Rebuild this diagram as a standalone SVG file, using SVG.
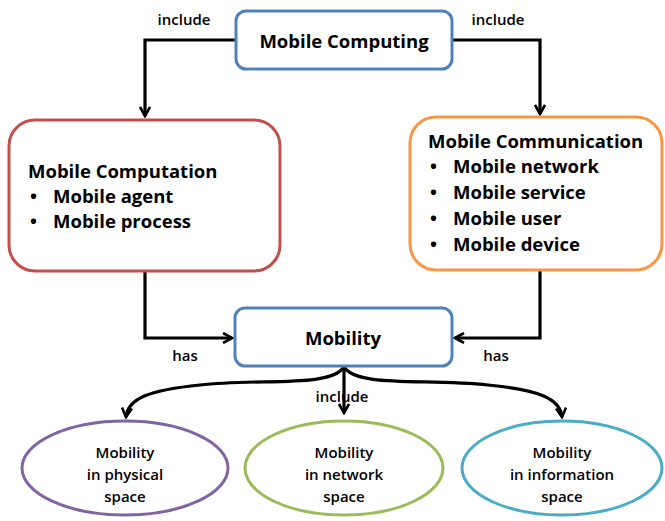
<svg xmlns="http://www.w3.org/2000/svg" width="665" height="521" viewBox="0 0 665 521">
<defs>
<style>
.t{font-family:"Open Sans","Liberation Sans",sans-serif;font-weight:bold;fill:#000}
.big{font-size:18.5px}
.lab{font-size:15px;font-weight:600}
.el{font-size:15px;font-weight:600}
.box{fill:#fff;stroke-width:3}
.c{fill:none;stroke:#000;stroke-width:3.2}
</style>
<marker id="ah" viewBox="0 0 12 12" refX="10" refY="6" markerWidth="12" markerHeight="12" markerUnits="userSpaceOnUse" orient="auto">
<polyline points="1,1 10,6 1,11" fill="none" stroke="#000" stroke-width="2.6"/>
</marker>
</defs>
<rect width="665" height="521" fill="#fff"/>
<g id="connectors">
<polyline class="c" points="236,40 145,40 145,116" marker-end="url(#ah)"/>
<polyline class="c" points="452,40 540,40 540,114" marker-end="url(#ah)"/>
<polyline class="c" points="145,272 145,338 232,338" marker-end="url(#ah)"/>
<polyline class="c" points="540,271 540,338 455,338" marker-end="url(#ah)"/>
<path class="c" d="M344,367 L344,413" marker-end="url(#ah)"/>
<path class="c" d="M344,367 C330,388 260,378 200,385 C150,390 128,398 126,417" marker-end="url(#ah)"/>
<path class="c" d="M344,367 C358,388 428,378 488,385 C538,390 560,398 562,417" marker-end="url(#ah)"/>
<text class="t lab" x="184" y="25" text-anchor="middle">include</text>
<text class="t lab" x="498" y="25" text-anchor="middle">include</text>
<text class="t lab" x="185" y="361" text-anchor="middle">has</text>
<text class="t lab" x="496" y="361" text-anchor="middle">has</text>
<text class="t lab" x="342" y="402" text-anchor="middle">include</text>
</g>
<g id="mobile-computing">
<rect class="box" x="236" y="11" width="216" height="58" rx="10" stroke="#4F81BD"/>
<text class="t big" x="344" y="48" text-anchor="middle">Mobile Computing</text>
</g>
<g id="mobile-computation">
<rect class="box" x="9" y="120" width="271" height="151" rx="26" stroke="#C0504D"/>
<text class="t big" x="28" y="178">Mobile Computation</text>
<text class="t big" x="30" y="203">•</text>
<text class="t big" x="53" y="203">Mobile agent</text>
<text class="t big" x="30" y="228">•</text>
<text class="t big" x="53" y="228">Mobile process</text>
</g>
<g id="mobile-communication">
<rect class="box" x="410" y="117" width="252" height="153" rx="26" stroke="#F79646"/>
<text class="t big" x="428" y="148">Mobile Communication</text>
<text class="t big" x="430" y="173">•</text>
<text class="t big" x="453" y="173">Mobile network</text>
<text class="t big" x="430" y="199">•</text>
<text class="t big" x="453" y="199">Mobile service</text>
<text class="t big" x="430" y="225">•</text>
<text class="t big" x="453" y="225">Mobile user</text>
<text class="t big" x="430" y="251">•</text>
<text class="t big" x="453" y="251">Mobile device</text>
</g>
<g id="mobility">
<rect class="box" x="235" y="308" width="217" height="58" rx="10" stroke="#4F81BD"/>
<text class="t big" x="343" y="345" text-anchor="middle">Mobility</text>
</g>
<g id="physical">
<ellipse class="box" cx="125" cy="468" rx="103" ry="47" stroke="#8064A2"/>
<text class="t el" x="125" y="458" text-anchor="middle">Mobility</text>
<text class="t el" x="125" y="480" text-anchor="middle">in physical</text>
<text class="t el" x="125" y="502" text-anchor="middle">space</text>
</g>
<g id="network">
<ellipse class="box" cx="344" cy="468" rx="99" ry="47" stroke="#9BBB59"/>
<text class="t el" x="344" y="458" text-anchor="middle">Mobility</text>
<text class="t el" x="344" y="480" text-anchor="middle">in network</text>
<text class="t el" x="344" y="502" text-anchor="middle">space</text>
</g>
<g id="information">
<ellipse class="box" cx="562" cy="468" rx="100" ry="47" stroke="#4BACC6"/>
<text class="t el" x="562" y="458" text-anchor="middle">Mobility</text>
<text class="t el" x="562" y="480" text-anchor="middle">in information</text>
<text class="t el" x="562" y="502" text-anchor="middle">space</text>
</g>
</svg>
